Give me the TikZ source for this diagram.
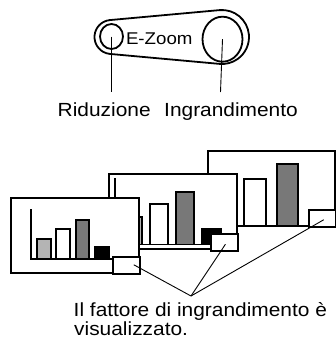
\documentclass[tikz,border=0pt]{standalone}
\usepackage{fontspec}
\setmainfont{Liberation Sans}[FakeStretch=1.1]
\usetikzlibrary{shapes.geometric,calc}
\definecolor{barlight}{RGB}{180,180,180}
\definecolor{bardark}{RGB}{120,120,120}
\begin{document}
\begin{tikzpicture}[x=1pt,y=-1pt,
  frame/.style={draw=black,line width=1.6pt,fill=white},
  bar/.style={draw=black,line width=1.4pt},
  smallbox/.style={draw=black,line width=1.5pt,fill=white,inner sep=0pt,minimum width=27pt,minimum height=17pt,anchor=north west},
  lbl/.style={inner sep=0pt,anchor=base west,font=\fontsize{19}{19}\selectfont},
  conn/.style={line width=0.9pt},
  lever/.style={line width=1.8pt},
  btn/.style={ellipse,draw=black,line width=1.8pt,inner sep=0pt}]
\useasboundingbox (0,0) rectangle (336,340);

% ---------- lever ----------
\draw[lever] (109.96,20.07) -- (219.56,10.11)
  arc[start angle=95.19,end angle=-95.19,radius=27pt]
  -- (109.96,53.93)
  arc[start angle=264.81,end angle=95.19,radius=17pt] -- cycle;
\node[btn,minimum width=23pt,minimum height=25pt] (lbtn) at (111.5,36.5) {};
\node[btn,minimum width=40pt,minimum height=45pt] (rbtn) at (222.5,39.2) {};
\node[lbl,font=\fontsize{17}{17}\selectfont] (ezoom) at (125.8,44.3) {E-Zoom};

\coordinate (lend) at (111.5,92);
\coordinate (rend) at (220.5,92);
\draw[conn] (lbtn.center) -- (lend);
\draw[conn] (rbtn.center) -- (rend);
\node[lbl] (rid) at (57.5,116) {Riduzione};
\node[lbl] (ingr) at (164,116) {Ingrandimento};

% ---------- back frame ----------
\draw[frame] (208,151) rectangle (335,226);
\draw[bar,fill=white] (244,179) rectangle (266,226);
\draw[bar,fill=bardark] (277,164) rectangle (298,226);
\node[smallbox] (bbox) at (308,209) {};

% ---------- middle frame ----------
\draw[frame] (109,174) rectangle (237,249);
\draw[bar] (115,178) -- (115,244.5) -- (210,244.5);
\draw[bar,fill=barlight] (128,217) rectangle (142,244.5);
\draw[bar,fill=white] (150,204) rectangle (168,244.5);
\draw[bar,fill=bardark] (176,192) rectangle (194,244.5);
\draw[bar,fill=black] (202,229) rectangle (221,244.5);
\node[smallbox] (mbox) at (210,233) {};

% ---------- front frame ----------
\draw[frame] (11,198) rectangle (139,273);
\draw[bar] (31,209) -- (31,259) -- (112,259);
\draw[bar,fill=barlight] (37,239) rectangle (51,259);
\draw[bar,fill=white] (56,229) rectangle (70,259);
\draw[bar,fill=bardark] (76,220) rectangle (89,259);
\draw[bar,fill=black] (95,247) rectangle (109,259);
\node[smallbox] (fbox) at (112,256) {};

% ---------- connectors ----------
\coordinate (conv) at (191,296);
\draw[conn] ($(fbox.center)+(7.5,-0.5)$) -- (conv);
\draw[conn] ($(mbox.center)+(1.2,2)$) -- (conv);
\draw[conn] ($(bbox.center)+(1.5,1.5)$) -- (conv);

\node[lbl] (t1) at (73.5,316.5) {Il fattore di ingrandimento è};
\node[lbl] (t2) at (74,335) {visualizzato.};
\end{tikzpicture}
\end{document}
